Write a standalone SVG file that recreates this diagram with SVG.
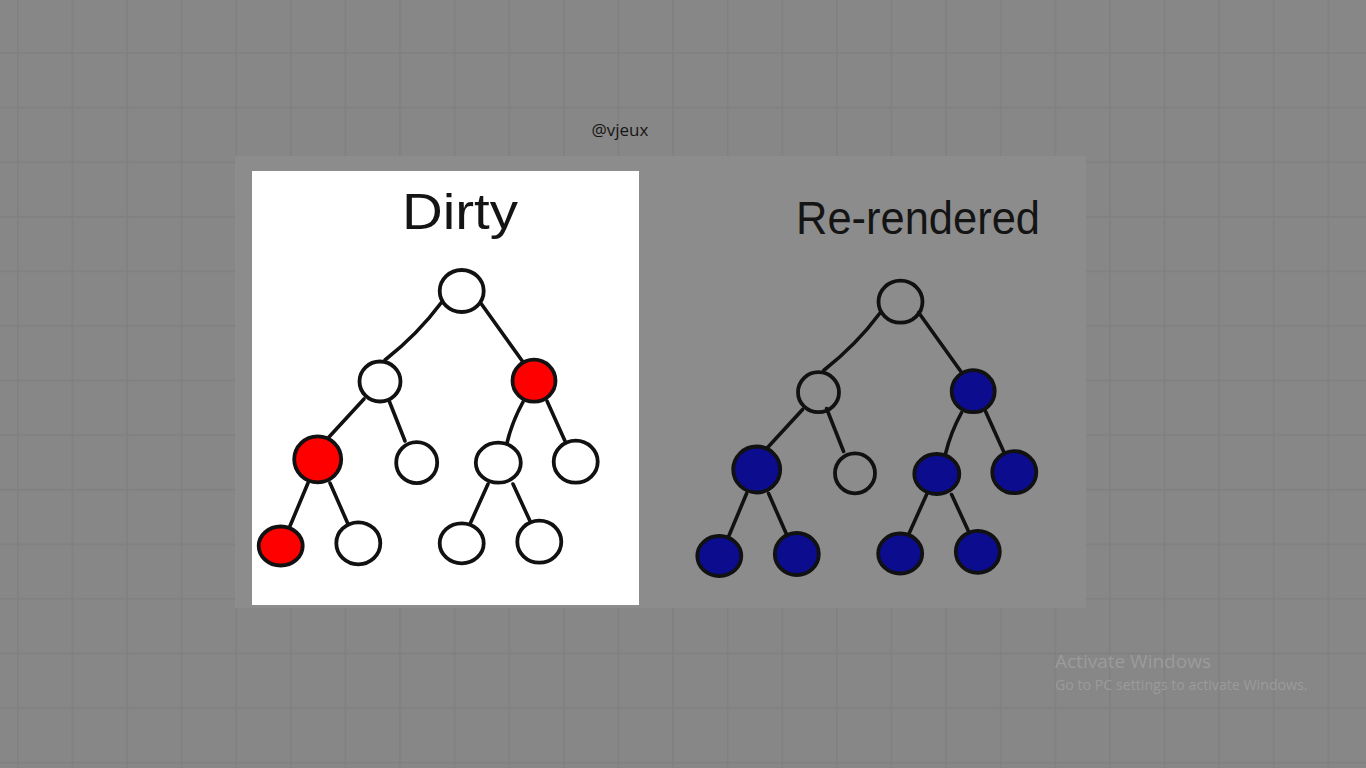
<svg xmlns="http://www.w3.org/2000/svg" width="1366" height="768" viewBox="0 0 1366 768">
  <style>
    .edge { fill: none; stroke: #111; stroke-width: 3.6; stroke-linecap: round; }
    .node { stroke: #111; stroke-width: 3.8; }
    .w { fill: #fff; }
    .t { fill: none; }
    .r { fill: #ff0000; }
    .b { fill: #0c0c8e; }
    .hand { font-family: "Liberation Sans", "DejaVu Sans", sans-serif; fill: #141414; }
    .wm { font-family: "Open Sans", "Noto Sans", sans-serif; fill: #9b9b9b; }
  </style>
  <defs>
    <pattern id="grid" x="17" y="-2.5" width="54.6" height="54.6" patternUnits="userSpaceOnUse">
      <rect x="0" y="0" width="1.6" height="54.6" fill="#808080"/>
      <rect x="0" y="0" width="54.6" height="1.6" fill="#808080"/>
    </pattern>
  </defs>

  <rect x="0" y="0" width="1366" height="768" fill="#878787"/>
  <rect x="0" y="0" width="1366" height="768" fill="url(#grid)"/>

  <rect id="panel" x="235" y="156" width="851" height="452" fill="#8c8c8c"/>
  <rect id="whitebox" x="252" y="171" width="387" height="434" fill="#ffffff"/>

  <text x="620" y="136" text-anchor="middle" font-family="Open Sans, Noto Sans, sans-serif" font-size="17" fill="#151515">@vjeux</text>

  <text class="hand" x="402" y="229" font-size="50" textLength="116" lengthAdjust="spacingAndGlyphs">Dirty</text>
  <text class="hand" x="796" y="234" font-size="47" textLength="244" lengthAdjust="spacingAndGlyphs">Re-rendered</text>

  <g id="connectors">
    <g id="edges-left">
      <path class="edge" d="M441,303 Q418,334 385,360"/>
      <path class="edge" d="M480,302 L523,362"/>
      <path class="edge" d="M364,399 L329,437"/>
      <path class="edge" d="M388,398 L405,441"/>
      <path class="edge" d="M523,402 Q512,422 507,443"/>
      <path class="edge" d="M547,401 L565,441"/>
      <path class="edge" d="M308,483 L290,526"/>
      <path class="edge" d="M330,483 L348,524"/>
      <path class="edge" d="M488,484 L470,524"/>
      <path class="edge" d="M513,484 L530,521"/>
    </g>
    <g id="edges-right" transform="translate(438.6,10.5)">
      <path class="edge" d="M441,303 Q418,334 385,360"/>
      <path class="edge" d="M480,302 L523,362"/>
      <path class="edge" d="M364,399 L329,437"/>
      <path class="edge" d="M388,398 L405,441"/>
      <path class="edge" d="M523,402 Q512,422 507,443"/>
      <path class="edge" d="M547,401 L565,441"/>
      <path class="edge" d="M308,483 L290,526"/>
      <path class="edge" d="M330,483 L348,524"/>
      <path class="edge" d="M488,484 L470,524"/>
      <path class="edge" d="M513,484 L530,521"/>
    </g>
  </g>

  <g id="dirty-tree">
    <g id="d-root"><ellipse class="node w" cx="461.7" cy="291" rx="22" ry="21"/></g>
    <g id="d-l"><ellipse class="node w" cx="380" cy="381.5" rx="20.5" ry="20"/></g>
    <g id="d-r"><ellipse class="node r" cx="534" cy="380.7" rx="21.5" ry="21"/></g>
    <g id="d-ll"><ellipse class="node r" cx="317.7" cy="459.3" rx="23.5" ry="23"/></g>
    <g id="d-lr"><ellipse class="node w" cx="416.7" cy="462.7" rx="20.5" ry="20.5"/></g>
    <g id="d-rl"><ellipse class="node w" cx="498.3" cy="462.7" rx="22.5" ry="20"/></g>
    <g id="d-rr"><ellipse class="node w" cx="575.7" cy="461.7" rx="22" ry="21"/></g>
    <g id="d-lll"><ellipse class="node r" cx="280.7" cy="546" rx="22" ry="19.5"/></g>
    <g id="d-llr"><ellipse class="node w" cx="358.3" cy="543.3" rx="22" ry="21"/></g>
    <g id="d-rll"><ellipse class="node w" cx="461.7" cy="543.3" rx="22" ry="20"/></g>
    <g id="d-rlr"><ellipse class="node w" cx="539.3" cy="541.7" rx="22" ry="21"/></g>
  </g>

  <g id="rerendered-tree">
    <g id="r-root"><ellipse class="node t" cx="900.5" cy="301.7" rx="22" ry="21"/></g>
    <g id="r-l"><ellipse class="node t" cx="818.5" cy="392.2" rx="20.5" ry="20"/></g>
    <g id="r-r"><ellipse class="node b" cx="973.2" cy="391.2" rx="21.5" ry="21"/></g>
    <g id="r-ll"><ellipse class="node b" cx="756.7" cy="469.5" rx="23.5" ry="23"/></g>
    <g id="r-lr"><ellipse class="node t" cx="855" cy="473.3" rx="20" ry="20"/></g>
    <g id="r-rl"><ellipse class="node b" cx="936.8" cy="474" rx="22.5" ry="20"/></g>
    <g id="r-rr"><ellipse class="node b" cx="1014.3" cy="472.2" rx="22" ry="21"/></g>
    <g id="r-lll"><ellipse class="node b" cx="719.3" cy="556" rx="22" ry="20"/></g>
    <g id="r-llr"><ellipse class="node b" cx="796.8" cy="554" rx="22" ry="21"/></g>
    <g id="r-rll"><ellipse class="node b" cx="900.2" cy="553.5" rx="22" ry="20"/></g>
    <g id="r-rlr"><ellipse class="node b" cx="977.8" cy="551.8" rx="22" ry="21"/></g>
  </g>

  <text class="wm" x="1055" y="668" font-size="19">Activate Windows</text>
  <text class="wm" x="1055" y="690" font-size="14.2">Go to PC settings to activate Windows.</text>
</svg>
